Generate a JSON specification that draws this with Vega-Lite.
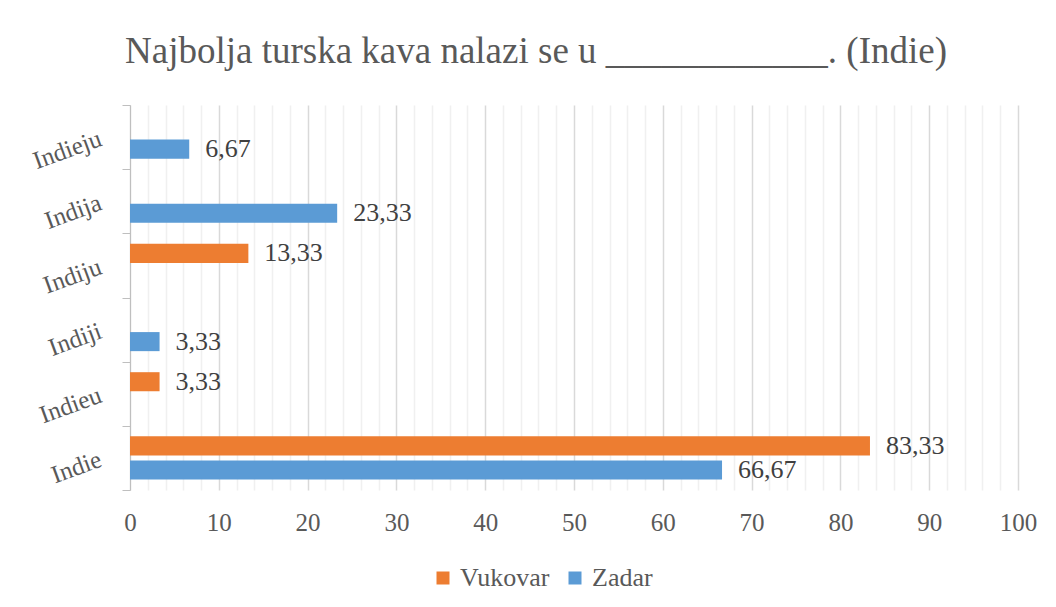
{
  "$schema": "https://vega.github.io/schema/vega-lite/v6.json",
  "autosize": "none",
  "width": 888,
  "height": 385,
  "padding": {"left": 130, "top": 105, "right": 38, "bottom": 117},
  "background": "white",
  "title": {
    "text": "Najbolja turska kava nalazi se u ____________. (Indie)",
    "font": "Liberation Serif",
    "fontSize": 37,
    "fontWeight": "normal",
    "color": "#595959",
    "anchor": "middle",
    "dx": -38,
    "offset": 23
  },
  "data": {
    "values": [
      {"odgovor": "Indie", "grad": "Vukovar", "postotak": 83.33},
      {"odgovor": "Indie", "grad": "Zadar", "postotak": 66.67},
      {"odgovor": "Indieu", "grad": "Vukovar", "postotak": 3.33},
      {"odgovor": "Indiji", "grad": "Zadar", "postotak": 3.33},
      {"odgovor": "Indiju", "grad": "Vukovar", "postotak": 13.33},
      {"odgovor": "Indija", "grad": "Zadar", "postotak": 23.33},
      {"odgovor": "Indieju", "grad": "Zadar", "postotak": 6.67}
    ]
  },
  "encoding": {
    "y": {
      "field": "odgovor",
      "type": "nominal",
      "sort": ["Indieju", "Indija", "Indiju", "Indiji", "Indieu", "Indie"],
      "scale": {"paddingInner": 0, "paddingOuter": 0},
      "axis": {
        "title": null,
        "domainColor": "#bfbfbf",
        "tickColor": "#bfbfbf",
        "tickBand": "extent",
        "tickSize": 8,
        "labelAngle": -20,
        "labelAlign": "right",
        "labelBaseline": "middle",
        "labelPadding": 22,
        "labelFont": "Liberation Serif",
        "labelFontSize": 25,
        "labelColor": "#595959",
        "grid": false
      }
    },
    "yOffset": {
      "field": "grad",
      "type": "nominal",
      "scale": {"domain": ["Vukovar", "Zadar"], "paddingInner": 0.208, "paddingOuter": 0.4375}
    },
    "x": {
      "field": "postotak",
      "type": "quantitative",
      "scale": {"domain": [0, 100], "nice": false},
      "axis": {
        "title": null,
        "values": [0,2,4,6,8,10,12,14,16,18,20,22,24,26,28,30,32,34,36,38,40,42,44,46,48,50,52,54,56,58,60,62,64,66,68,70,72,74,76,78,80,82,84,86,88,90,92,94,96,98,100],
        "labelExpr": "datum.value % 10 === 0 ? datum.label : ''",
        "format": "d",
        "labelFlush": false,
        "labelOverlap": false,
        "domain": false,
        "ticks": false,
        "grid": true,
        "gridColor": {"condition": {"test": "datum.value % 10 === 0", "value": "#d9d9d9"}, "value": "#f0f0f0"},
        "gridWidth": 1.5,
        "labelPadding": 20,
        "labelFont": "Liberation Serif",
        "labelFontSize": 25,
        "labelColor": "#595959"
      }
    }
  },
  "layer": [
    {
      "mark": {"type": "bar"},
      "encoding": {
        "color": {
          "field": "grad",
          "type": "nominal",
          "scale": {"domain": ["Vukovar", "Zadar"], "range": ["#ED7D31", "#5B9BD5"]},
          "legend": {
            "title": null,
            "orient": "none",
            "legendX": 300,
            "legendY": 460,
            "direction": "horizontal",
            "symbolType": "square",
            "symbolSize": 169,
            "symbolStrokeWidth": 0,
            "labelFont": "Liberation Serif",
            "labelFontSize": 26,
            "labelColor": "#595959",
            "columnPadding": 12,
            "labelOffset": 4
          }
        }
      }
    },
    {
      "mark": {"type": "text", "align": "left", "baseline": "middle", "dx": 16, "font": "Liberation Serif", "fontSize": 26, "color": "#404040"},
      "encoding": {
        "text": {"field": "postotak", "type": "quantitative", "format": ".2f"}
      }
    }
  ],
  "config": {
    "view": {"stroke": null},
    "locale": {
      "number": {"decimal": ",", "thousands": ".", "grouping": [3], "currency": ["", " €"]}
    }
  }
}
